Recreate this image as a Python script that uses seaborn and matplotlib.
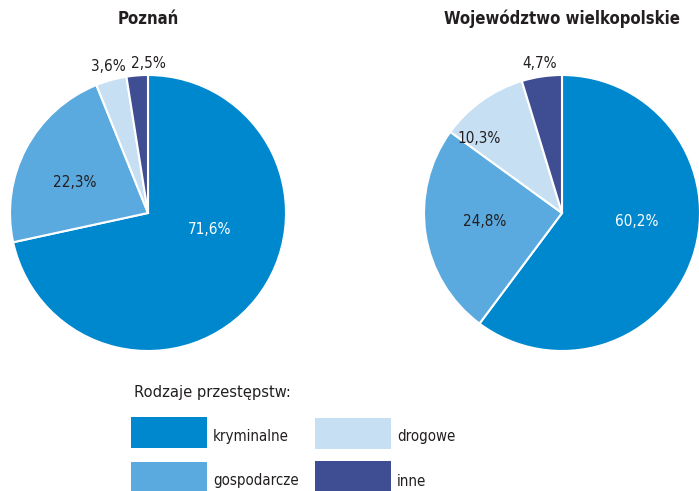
import matplotlib
matplotlib.use("Agg")
import matplotlib.pyplot as plt
from matplotlib import font_manager as fm
from matplotlib.patches import Rectangle
import seaborn as sns

categories = ["kryminalne", "gospodarcze", "drogowe", "inne"]
poznan_values = [71.6, 22.3, 3.6, 2.5]
wlkp_values = [60.2, 24.8, 10.3, 4.7]
titles = ["Poznań", "Województwo wielkopolskie"]
legend_title = "Rodzaje przestępstw:"

sns.set_theme(style="white")
palette = sns.color_palette(["#0088cf", "#5aaadf", "#c6dff3", "#3f4d93"])

# choose a condensed font if one is installed
names = {f.name for f in fm.fontManager.ttflist}
cond_files = [f for f in fm.fontManager.ttflist
              if f.name == "DejaVu Sans" and "Condensed" in f.fname]
if "Liberation Sans Narrow" in names:
    family = ["Liberation Sans Narrow", "DejaVu Sans"]
    stretch = "normal"
    scale = 1.0
elif cond_files:
    family = ["DejaVu Sans"]
    stretch = "condensed"
    scale = 1.0
else:
    family = ["DejaVu Sans"]
    stretch = "normal"
    scale = 0.85
plt.rcParams["font.family"] = family
plt.rcParams["font.stretch"] = stretch

W, H = 699, 491
fig = plt.figure(figsize=(W / 100, H / 100), dpi=100)

def px_axes(x0, y0, x1, y1):
    return fig.add_axes([x0 / W, 1 - y1 / H, (x1 - x0) / W, (y1 - y0) / H])

def fmt(v):
    return f"{v:.1f}%".replace(".", ",")

DARK = "#231f20"
# label offsets (axes fraction) per slice, per pie
label_pos = [
    [(0.725, 0.44, "white"), (0.235, 0.61, DARK), (0.355, 1.03, DARK), (0.50, 1.04, DARK)],
    [(0.77, 0.47, "white"), (0.22, 0.47, DARK), (0.20, 0.77, DARK), (0.42, 1.04, DARK)],
]

pies = [(10, 75, 286, 351), (424, 75, 700, 351)]
title_x = [148, 562]
for i, (vals, box) in enumerate(zip([poznan_values, wlkp_values], pies)):
    ax = px_axes(*box)
    ax.pie(vals, colors=palette, startangle=90, counterclock=False,
           wedgeprops=dict(edgecolor="white", linewidth=1.5), radius=1)
    ax.set_xlim(-1, 1)
    ax.set_ylim(-1, 1)
    ax.set_aspect("equal")
    ax.axis("off")
    for v, (lx, ly, c) in zip(vals, label_pos[i]):
        ax.text(lx, ly, fmt(v), transform=ax.transAxes, ha="center", va="center",
                fontsize=11 * scale, color=c, clip_on=False)
    fig.text(title_x[i] / W, 1 - 19 / H, titles[i], ha="center", va="center",
             fontsize=12 * scale, fontweight="bold", color=DARK)

# legend
fig.text(134 / W, 1 - 393 / H, legend_title, ha="left", va="center",
         fontsize=11.8 * scale, color=DARK)
leg_boxes = [(131, 417, 437), (131, 462, 480), (315, 418, 436), (315, 461, 482)]
for cat, col, (rx, ry, ty) in zip(categories, palette, leg_boxes):
    fig.add_artist(Rectangle((rx / W, 1 - (ry + 31) / H), 76 / W, 31 / H,
                             transform=fig.transFigure, facecolor=col, edgecolor="none"))
    fig.text((rx + 82) / W, 1 - ty / H, cat, ha="left", va="center",
             fontsize=10.8 * scale, color=DARK)

fig.savefig("out.png", dpi=100)
